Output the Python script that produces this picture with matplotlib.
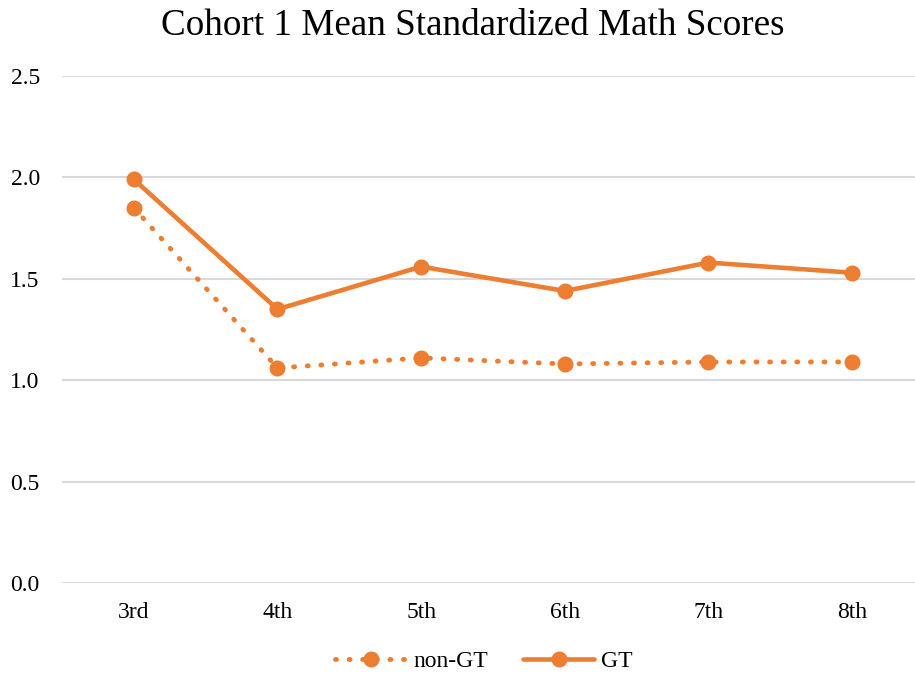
import matplotlib
matplotlib.use("Agg")
import matplotlib.pyplot as plt

categories = ["3rd", "4th", "5th", "6th", "7th", "8th"]
non_gt = [1.85, 1.06, 1.11, 1.08, 1.09, 1.09]
gt = [1.99, 1.35, 1.56, 1.44, 1.58, 1.53]
yticks = [0.0, 0.5, 1.0, 1.5, 2.0, 2.5]

color = "#ED7D31"
plt.rcParams['font.family'] = ['Liberation Serif', 'DejaVu Serif']

W, H = 915, 673
fig = plt.figure(figsize=(W/100, H/100), dpi=100)
left, right = 62, 924
top, bottom = 76, 583
ax = fig.add_axes([left/W, 1 - bottom/H, (right-left)/W, (bottom-top)/H])

x = list(range(len(categories)))
ax.plot(x, non_gt, color=color, lw=3.5, linestyle=(0, (0.2, 2.6)), dash_capstyle='round',
        marker='o', ms=10.5, label="non-GT")
ax.plot(x, gt, color=color, lw=3.3, solid_capstyle='round', marker='o', ms=10.5, label="GT")

ax.set_xlim(-0.5, len(categories) - 0.5)
ax.set_ylim(0, 2.5)
ax.set_yticks(yticks)
ax.set_yticklabels([f"{v:.1f}" for v in yticks])
ax.set_xticks(x)
ax.set_xticklabels(categories)
ax.tick_params(axis='both', length=0, labelsize=17, colors='black')
ax.tick_params(axis='y', pad=16)
ax.tick_params(axis='x', pad=14)
ax.grid(axis='y', color='#D9D9D9', lw=1.5)
ax.set_axisbelow(True)
for s in ax.spines.values():
    s.set_visible(False)

fig.text(473/W, 1 - 26/H, "Cohort 1 Mean Standardized Math Scores", ha='center', va='center', fontsize=26.7)

leg = fig.legend(loc='center', bbox_to_anchor=(484/W, 1 - 661/H), ncol=2, frameon=False,
                 fontsize=17, handlelength=3.0, columnspacing=1.5, handletextpad=0.3)
fig.savefig("out.png", dpi=100)
